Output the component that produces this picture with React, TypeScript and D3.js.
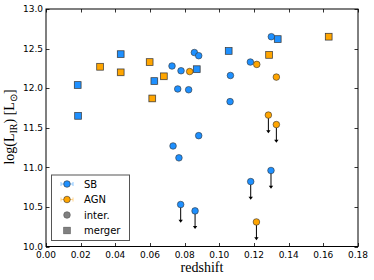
import { useEffect, useRef } from 'react';
import * as d3 from 'd3';

// SB mergers (squares, blue)
const sbMergerZ = [0.0183, 0.0185, 0.0431, 0.0625, 0.087, 0.1054, 0.1337];
const sbMergerL = [12.04, 11.65, 12.43, 12.09, 12.24, 12.47, 12.62];
// AGN mergers (squares, orange)
const agnMergerZ = [0.0312, 0.0431, 0.0598, 0.0613, 0.068, 0.1287, 0.1631];
const agnMergerL = [12.27, 12.2, 12.33, 11.87, 12.15, 12.42, 12.65];
// SB interacting (circles, blue)
const sbInterZ = [0.0727, 0.0779, 0.076, 0.0823, 0.0856, 0.0881, 0.1064, 0.1062, 0.1179, 0.13, 0.0733, 0.0767, 0.0881, 0.0777, 0.086, 0.1181, 0.1298];
const sbInterL = [12.28, 12.22, 11.99, 11.98, 12.45, 12.41, 12.16, 11.83, 12.33, 12.65, 11.27, 11.12, 11.4, 10.53, 10.45, 10.82, 10.96];
const sbInterLimit = [false, false, false, false, false, false, false, false, false, false, false, false, false, true, true, true, true];
// AGN interacting (circles, orange)
const agnInterZ = [0.0829, 0.1216, 0.1329, 0.1283, 0.1329, 0.1214];
const agnInterL = [12.21, 12.3, 12.14, 11.66, 11.54, 10.31];
const agnInterLimit = [false, false, false, true, true, true];

const xTicks = d3.range(0, 0.1801, 0.02);
const yTicks = d3.range(10, 13.01, 0.5);
const legendLabels = ['SB', 'AGN', 'inter.', 'merger'];

const BLUE = '#1e90ff';
const ORANGE = '#ffa500';
const ARROW = 0.23;

export default function App() {
  const svgRef = useRef<SVGSVGElement>(null);
  const width = 374;
  const height = 280;

  useEffect(() => {
    if (!svgRef.current) return;
    const svg = d3.select(svgRef.current);
    svg.selectAll('*').remove();

    const x = d3.scaleLinear().domain([0, 0.18]).range([46, 358]);
    const y = d3.scaleLinear().domain([10, 13]).range([246.5, 9]);

    svg.append('rect').attr('width', width).attr('height', height).attr('fill', '#fff');

    const tickFont = 'DejaVu Sans, sans-serif';
    const tl = 3.5;
    const axes = svg.append('g').attr('stroke', '#000').attr('stroke-width', 0.8);
    xTicks.forEach(t => {
      const px = Math.round(x(t)) + 0.5;
      axes.append('line').attr('x1', px).attr('x2', px).attr('y1', 246.5).attr('y2', 246.5 - tl);
      axes.append('line').attr('x1', px).attr('x2', px).attr('y1', 9).attr('y2', 9 + tl);
    });
    yTicks.forEach(t => {
      const py = Math.round(y(t)) + 0.5;
      axes.append('line').attr('x1', 46).attr('x2', 46 + tl).attr('y1', py).attr('y2', py);
      axes.append('line').attr('x1', 358).attr('x2', 358 - tl).attr('y1', py).attr('y2', py);
    });

    svg.selectAll('.xlab').data(xTicks).enter().append('text')
      .attr('x', d => x(d)).attr('y', 257.5)
      .attr('text-anchor', 'middle').attr('font-family', tickFont).attr('font-size', 9)
      .text(d => d3.format('.2f')(d));
    svg.selectAll('.ylab').data(yTicks).enter().append('text')
      .attr('x', 43).attr('y', d => y(d) + 3.3)
      .attr('text-anchor', 'end').attr('font-family', tickFont).attr('font-size', 9)
      .text(d => d3.format('.1f')(d));

    svg.append('text').attr('x', 202).attr('y', 272).attr('text-anchor', 'middle')
      .attr('font-family', 'Liberation Serif, serif').attr('font-size', 14).text('redshift');

    const yl = svg.append('text').attr('transform', 'translate(13.5,127) rotate(-90)')
      .attr('text-anchor', 'middle').attr('font-family', 'Liberation Serif, serif').attr('font-size', 14);
    yl.append('tspan').text('log(L');
    yl.append('tspan').attr('font-size', 10).attr('dy', 3).text('IR');
    yl.append('tspan').attr('dy', -3).text(') [L');
    yl.append('tspan').attr('font-size', 10).attr('dy', 3).text('⊙');
    yl.append('tspan').attr('dy', -3).text(']');

    const plot = svg.append('g');

    // upper limit arrows
    const limits = [
      ...sbInterZ.map((z, i) => ({ z, l: sbInterL[i], lim: sbInterLimit[i] })),
      ...agnInterZ.map((z, i) => ({ z, l: agnInterL[i], lim: agnInterLimit[i] })),
    ].filter(d => d.lim);
    limits.forEach(d => {
      const px = x(d.z);
      const tip = y(d.l - ARROW);
      plot.append('line').attr('x1', px).attr('x2', px).attr('y1', y(d.l)).attr('y2', tip - 2)
        .attr('stroke', '#000').attr('stroke-width', 1);
      plot.append('path').attr('d', `M${px - 2.2},${tip - 3}L${px + 2.2},${tip - 3}L${px},${tip}Z`).attr('fill', '#000');
    });

    const sq = 6.6;
    const drawSquares = (zs: number[], ls: number[], c: string) => {
      zs.forEach((z, i) => {
        plot.append('rect').attr('x', x(z) - sq / 2 - 0.6).attr('y', y(ls[i]) - sq / 2 - 0.6)
          .attr('width', sq + 1.2).attr('height', sq + 1.2).attr('fill', '#bbb');
        plot.append('rect').attr('x', x(z) - sq / 2).attr('y', y(ls[i]) - sq / 2)
          .attr('width', sq).attr('height', sq).attr('fill', c).attr('stroke', '#333').attr('stroke-width', 0.6);
      });
    };
    const drawCircles = (zs: number[], ls: number[], c: string) => {
      zs.forEach((z, i) => {
        plot.append('circle').attr('cx', x(z)).attr('cy', y(ls[i])).attr('r', 3.3)
          .attr('fill', c).attr('stroke', '#333').attr('stroke-width', 0.6);
      });
    };
    drawSquares(sbMergerZ, sbMergerL, BLUE);
    drawSquares(agnMergerZ, agnMergerL, ORANGE);
    drawCircles(sbInterZ, sbInterL, BLUE);
    drawCircles(agnInterZ, agnInterL, ORANGE);

    // frame
    svg.append('rect').attr('x', 46).attr('y', 9).attr('width', 312).attr('height', 237.5)
      .attr('fill', 'none').attr('stroke', '#000').attr('stroke-width', 1);

    // legend
    const lg = svg.append('g');
    lg.append('rect').attr('x', 51.5).attr('y', 175).attr('width', 78).attr('height', 65.5)
      .attr('fill', '#fff').attr('stroke', '#555').attr('stroke-width', 1);
    const rowY = [184, 199.5, 215, 230.5];
    const mx = 67;
    [BLUE, ORANGE].forEach((c, i) => {
      const ry = rowY[i];
      const lc = c === BLUE ? '#8ec8ff' : '#ffd38a';
      lg.append('line').attr('x1', mx - 6).attr('x2', mx + 6).attr('y1', ry).attr('y2', ry).attr('stroke', lc).attr('stroke-width', 1);
      lg.append('line').attr('x1', mx - 6).attr('x2', mx - 6).attr('y1', ry - 2).attr('y2', ry + 2).attr('stroke', lc).attr('stroke-width', 1);
      lg.append('line').attr('x1', mx + 6).attr('x2', mx + 6).attr('y1', ry - 2).attr('y2', ry + 2).attr('stroke', lc).attr('stroke-width', 1);
      lg.append('circle').attr('cx', mx).attr('cy', ry).attr('r', 3.3).attr('fill', c).attr('stroke', '#333').attr('stroke-width', 0.6);
    });
    lg.append('circle').attr('cx', mx).attr('cy', rowY[2]).attr('r', 3.3).attr('fill', '#808080').attr('stroke', '#555').attr('stroke-width', 0.6);
    lg.append('rect').attr('x', mx - 3.3).attr('y', rowY[3] - 3.3).attr('width', 6.6).attr('height', 6.6)
      .attr('fill', '#808080').attr('stroke', '#555').attr('stroke-width', 0.6);
    lg.selectAll('.lt').data(legendLabels).enter().append('text')
      .attr('x', 84).attr('y', (_, i) => rowY[i] + 3.6)
      .attr('font-family', tickFont).attr('font-size', 10).text(d => d);
  }, []);

  return (
    <svg ref={svgRef} width={width} height={height} style={{ position: 'absolute', left: 0, top: 0 }}></svg>
  );
}
